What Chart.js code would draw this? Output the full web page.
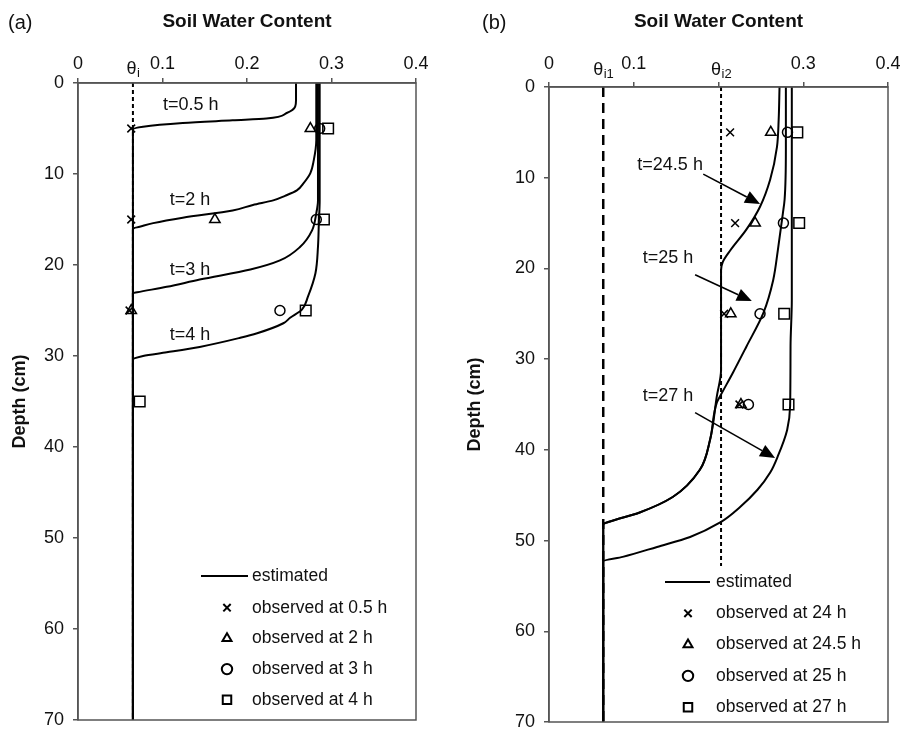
<!DOCTYPE html>
<html>
<head>
<meta charset="utf-8">
<script src="https://cdn.jsdelivr.net/npm/chart.js@4.4.0/dist/chart.umd.min.js"></script>
<style>
  html, body { margin: 0; padding: 0; background: #fff; overflow: hidden; }
  #wrap { position: relative; width: 900px; height: 735px; }
  .pane { position: absolute; top: 0; width: 450px; height: 735px; }
</style>
</head>
<body>
<div id="wrap">
  <div class="pane" style="left:0"><canvas id="chartA" width="450" height="735"></canvas></div>
  <div class="pane" style="left:450px"><canvas id="chartB" width="450" height="735"></canvas></div>
</div>
<script>
// ---- data ----
const xTicks = [0, 0.1, 0.2, 0.3, 0.4];
const yTicks = [0, 10, 20, 30, 40, 50, 60, 70];

// (a) initial water content
const thetaI = 0.065;
// (a) estimated profiles (theta, depth cm)
const estA05Theta = [0.258, 0.258, 0.257, 0.247, 0.223, 0.183, 0.124, 0.077, 0.065, 0.065];
const estA05Depth = [0, 1.9, 2.6, 3.3, 3.9, 4.1, 4.4, 4.8, 5.1, 70];
const estA2Theta = [0.282, 0.282, 0.279, 0.275, 0.267, 0.259, 0.245, 0.231, 0.207, 0.183, 0.124, 0.089, 0.073, 0.065, 0.065];
const estA2Depth = [0, 6.3, 8.5, 9.9, 11.0, 11.8, 12.4, 12.9, 13.4, 14.0, 14.8, 15.4, 15.8, 16.0, 70];
const estA3Theta = [0.284, 0.284, 0.282, 0.277, 0.263, 0.239, 0.204, 0.144, 0.105, 0.070, 0.065, 0.065];
const estA3Depth = [0, 12.9, 14.3, 16.2, 18.0, 19.5, 20.5, 21.6, 22.4, 23.0, 23.1, 70];
const estA4Theta = [0.286, 0.286, 0.285, 0.284, 0.281, 0.272, 0.265, 0.251, 0.243, 0.212, 0.192, 0.144, 0.105, 0.077, 0.065, 0.065];
const estA4Depth = [0, 12.9, 15.4, 18.0, 20.9, 23.5, 24.9, 25.8, 26.4, 27.5, 28.0, 29.0, 29.6, 30.0, 30.4, 70];
// (a) observed
const obsDepthA = [5, 15, 25, 35];
const obsA05 = [0.063, 0.063, 0.061];
const obsA2 = [0.275, 0.162, 0.063];
const obsA3 = [0.286, 0.282, 0.239];
const obsA4 = [0.296, 0.291, 0.2695, 0.073];

// (b) initial water contents
const thetaI1 = 0.064;
const thetaI2 = 0.203;
// (b) estimated profiles
const estB245Theta = [0.272, 0.271, 0.269, 0.261, 0.249, 0.233, 0.214, 0.205, 0.203, 0.203, 0.198, 0.190, 0.178, 0.146, 0.107, 0.072, 0.064, 0.064];
const estB245Depth = [0, 3.6, 6.6, 10.2, 13.2, 15.7, 18.0, 19.3, 20.2, 31.2, 34.1, 38.9, 42.2, 45.2, 46.9, 47.9, 48.2, 70];
const estB25Theta = [0.2795, 0.2795, 0.278, 0.276, 0.270, 0.2645, 0.253, 0.233, 0.217, 0.203, 0.198, 0.190, 0.178, 0.146, 0.107, 0.072, 0.064, 0.064];
const estB25Depth = [0, 6.9, 12.4, 13.9, 18.0, 21.3, 24.9, 28.6, 31.5, 33.9, 34.8, 38.9, 42.2, 45.2, 46.9, 47.9, 48.2, 70];
const estB27Theta = [0.2865, 0.2865, 0.285, 0.2845, 0.281, 0.270, 0.261, 0.246, 0.2255, 0.202, 0.1665, 0.1275, 0.087, 0.064, 0.064];
const estB27Depth = [0, 23.5, 28.6, 35.2, 37.8, 40.7, 42.5, 44.4, 46.3, 48.0, 49.6, 50.7, 51.8, 52.3, 70];
// (b) observed
const obsDepthB = [5, 15, 25, 35];
const obsB24 = [0.2137, 0.2196, 0.2066, 0.2247];
const obsB245 = [0.2617, 0.2432, 0.2145, 0.2265];
const obsB25 = [0.2814, 0.2766, 0.249, 0.2353];
const obsB27 = [0.293, 0.2952, 0.2775, 0.2826];

const legendA = ['estimated', 'observed at 0.5 h', 'observed at 2 h', 'observed at 3 h', 'observed at 4 h'];
const legendB = ['estimated', 'observed at 24 h', 'observed at 24.5 h', 'observed at 25 h', 'observed at 27 h'];
const curveTextA = ['t=0.5 h', 't=2 h', 't=3 h', 't=4 h'];
const curveTextB = ['t=24.5 h', 't=25 h', 't=27 h'];

// ---- helpers ----
const FONT = "'Liberation Sans', Arial, sans-serif";
const AXIS = '#555';

function pts(theta, depth) {
  return theta.map((t, i) => ({ x: t, y: depth[i] }));
}

function curve(theta, depth) {
  return { data: pts(theta, depth), showLine: true, borderColor: '#000', borderWidth: 2,
           pointRadius: 0, cubicInterpolationMode: 'monotone', order: 1 };
}

function refLine(val, dash, width) {
  return { data: [{ x: val, y: 0 }, { x: val, y: 70 }], showLine: true, borderColor: '#000',
           borderWidth: width, borderDash: dash, pointRadius: 0, order: 5 };
}

const markers = [
  { style: 'crossRot', r: 5.5 },
  { style: 'triangle', r: 6 },
  { style: 'circle', r: 5 },
  { style: 'rect', r: 7.5 }
];

function observed(theta, depth, m) {
  return { data: pts(theta, depth.slice(0, theta.length)), showLine: false, pointStyle: m.style,
           pointRadius: m.r, pointBorderColor: '#000', pointBackgroundColor: 'rgba(0,0,0,0)',
           pointBorderWidth: 1.5, order: 0 };
}

function drawMarker(ctx, style, x, y, r) {
  ctx.beginPath();
  if (style === 'crossRot') {
    const o = r * Math.SQRT1_2;
    ctx.moveTo(x - o, y - o); ctx.lineTo(x + o, y + o);
    ctx.moveTo(x - o, y + o); ctx.lineTo(x + o, y - o);
  } else if (style === 'triangle') {
    ctx.moveTo(x, y - r);
    ctx.lineTo(x + r * Math.sin(Math.PI / 3), y + r / 2);
    ctx.lineTo(x - r * Math.sin(Math.PI / 3), y + r / 2);
    ctx.closePath();
  } else if (style === 'circle') {
    ctx.arc(x, y, r, 0, Math.PI * 2);
  } else {
    const s = r * Math.SQRT1_2;
    ctx.rect(x - s, y - s, 2 * s, 2 * s);
  }
  ctx.stroke();
}

const decor = {
  id: 'decor',
  afterDatasetsDraw(chart, args, o) {
    const { ctx, chartArea: a, scales: { x, y } } = chart;
    ctx.save();
    // legend background
    const L = o.legend;
    if (L.bg) {
      ctx.fillStyle = '#fff';
      ctx.fillRect(L.bg[0], L.bg[1], L.bg[2], L.bg[3]);
    }
    // plot frame
    ctx.strokeStyle = AXIS;
    ctx.lineWidth = 1.5;
    ctx.strokeRect(a.left, a.top, a.right - a.left, a.bottom - a.top);

    ctx.fillStyle = '#111';
    ctx.strokeStyle = '#000';
    // panel letter
    ctx.font = '20px ' + FONT;
    ctx.textAlign = 'left';
    ctx.textBaseline = 'middle';
    ctx.fillText(o.letter[0], o.letter[1], o.letter[2]);

    // theta labels on the top axis
    o.thetaLabels.forEach(t => {
      ctx.font = '18px ' + FONT;
      const w1 = ctx.measureText('θ').width;
      ctx.font = '13px ' + FONT;
      const w2 = ctx.measureText(t.sub).width;
      const px = x.getPixelForValue(t.value) - (w1 + w2) / 2;
      ctx.textAlign = 'left';
      ctx.textBaseline = 'alphabetic';
      ctx.font = '18px ' + FONT;
      ctx.fillText('θ', px, o.thetaY);
      ctx.font = '13px ' + FONT;
      ctx.fillText(t.sub, px + w1 + 0.5, o.thetaY + 3);
    });

    // curve labels and arrows
    ctx.font = '18px ' + FONT;
    ctx.textAlign = 'center';
    ctx.textBaseline = 'middle';
    o.notes.forEach(n => {
      ctx.fillText(n.text, x.getPixelForValue(n.at[0]), y.getPixelForValue(n.at[1]));
      if (n.arrow) {
        const x0 = x.getPixelForValue(n.arrow[0]), y0 = y.getPixelForValue(n.arrow[1]);
        const x1 = x.getPixelForValue(n.arrow[2]), y1 = y.getPixelForValue(n.arrow[3]);
        const ang = Math.atan2(y1 - y0, x1 - x0);
        const hl = 15, hw = 6.5;
        ctx.lineWidth = 1.6;
        ctx.beginPath();
        ctx.moveTo(x0, y0);
        ctx.lineTo(x1 - hl * Math.cos(ang), y1 - hl * Math.sin(ang));
        ctx.stroke();
        ctx.beginPath();
        ctx.moveTo(x1, y1);
        ctx.lineTo(x1 - hl * Math.cos(ang) + hw * Math.sin(ang), y1 - hl * Math.sin(ang) - hw * Math.cos(ang));
        ctx.lineTo(x1 - hl * Math.cos(ang) - hw * Math.sin(ang), y1 - hl * Math.sin(ang) + hw * Math.cos(ang));
        ctx.closePath();
        ctx.fillStyle = '#000';
        ctx.fill();
        ctx.fillStyle = '#111';
      }
    });

    // legend
    ctx.font = '17.5px ' + FONT;
    ctx.textAlign = 'left';
    ctx.textBaseline = 'middle';
    L.labels.forEach((lab, i) => {
      const yy = L.y0 + i * L.dy + (i > 0 ? L.gap : 0);
      if (i === 0) {
        ctx.lineWidth = 2.2;
        ctx.beginPath();
        ctx.moveTo(L.lineX[0], yy);
        ctx.lineTo(L.lineX[1], yy);
        ctx.stroke();
      } else {
        ctx.lineWidth = 2;
        const m = markers[i - 1];
        drawMarker(ctx, m.style, L.markX, yy, m.style === 'rect' ? 6 : 5.2);
      }
      ctx.fillText(lab, L.textX, yy);
    });
    ctx.restore();
  }
};

function scales(o) {
  const tickFont = { family: FONT, size: 18 };
  return {
    x: {
      type: 'linear', position: 'top', min: 0, max: 0.4,
      afterBuildTicks: s => { s.ticks = xTicks.map(v => ({ value: v })); },
      afterFit: s => { s.height = o.top; s.paddingLeft = 0; s.paddingRight = 0; },
      ticks: { font: tickFont, color: '#111', padding: o.tickPad,
               callback: v => (o.hide.includes(v) ? '' : String(v)) },
      grid: { drawOnChartArea: false, drawTicks: true, tickLength: 5, color: AXIS, lineWidth: 1.5 },
      border: { display: true, color: AXIS, width: 1.5 },
      title: { display: true, text: 'Soil Water Content', color: '#111',
               font: { family: FONT, size: 19, weight: 'bold' }, padding: { top: 10.5, bottom: 0 } }
    },
    y: {
      type: 'linear', reverse: true, min: 0, max: 70,
      afterBuildTicks: s => { s.ticks = yTicks.map(v => ({ value: v })); },
      afterFit: s => { s.width = o.left; s.paddingTop = 0; s.paddingBottom = 0; },
      ticks: { font: tickFont, color: '#111', padding: 9 },
      grid: { drawOnChartArea: false, drawTicks: true, tickLength: 5, color: AXIS, lineWidth: 1.5 },
      border: { display: true, color: AXIS, width: 1.5 },
      title: { display: true, text: 'Depth (cm)', color: '#111',
               font: { family: FONT, size: 18, weight: 'bold' }, padding: { top: o.yTitle, bottom: 0 } }
    }
  };
}

// ---- panel (a) ----
new Chart(document.getElementById('chartA'), {
  type: 'scatter',
  data: {
    datasets: [
      observed(obsA05, obsDepthA, markers[0]),
      observed(obsA2, obsDepthA, markers[1]),
      observed(obsA3, obsDepthA, markers[2]),
      observed(obsA4, obsDepthA, markers[3]),
      curve(estA05Theta, estA05Depth),
      curve(estA2Theta, estA2Depth),
      curve(estA3Theta, estA3Depth),
      curve(estA4Theta, estA4Depth),
      refLine(thetaI, [4, 3], 2)
    ]
  },
  options: {
    responsive: false, animation: false, devicePixelRatio: 1, indexAxis: 'y',
    layout: { padding: { left: 0, top: 0, right: 34, bottom: 15 } },
    scales: scales({ top: 83, left: 78, tickPad: 3, yTitle: 9, hide: [] }),
    plugins: {
      legend: { display: false }, tooltip: { enabled: false },
      decor: {
        letter: ['(a)', 8, 23],
        thetaY: 74,
        thetaLabels: [{ value: thetaI, sub: 'i' }],
        notes: [
          { text: curveTextA[0], at: [0.1334, 2.4] },
          { text: curveTextA[1], at: [0.1325, 12.9] },
          { text: curveTextA[2], at: [0.1325, 20.5] },
          { text: curveTextA[3], at: [0.1325, 27.7] }
        ],
        legend: { labels: legendA, y0: 576, dy: 30.7, gap: 1, lineX: [201, 248], markX: 227, textX: 252, bg: null }
      }
    }
  },
  plugins: [decor]
});

// ---- panel (b) ----
new Chart(document.getElementById('chartB'), {
  type: 'scatter',
  data: {
    datasets: [
      observed(obsB24, obsDepthB, markers[0]),
      observed(obsB245, obsDepthB, markers[1]),
      observed(obsB25, obsDepthB, markers[2]),
      observed(obsB27, obsDepthB, markers[3]),
      curve(estB245Theta, estB245Depth),
      curve(estB25Theta, estB25Depth),
      curve(estB27Theta, estB27Depth),
      refLine(thetaI1, [10, 6], 2.5),
      refLine(thetaI2, [4, 3], 2)
    ]
  },
  options: {
    responsive: false, animation: false, devicePixelRatio: 1, indexAxis: 'y',
    layout: { padding: { left: 0, top: 0, right: 12, bottom: 13 } },
    scales: scales({ top: 87, left: 99, tickPad: 7, yTitle: 14, hide: [0.2] }),
    plugins: {
      legend: { display: false }, tooltip: { enabled: false },
      decor: {
        letter: ['(b)', 32, 23],
        thetaY: 75,
        thetaLabels: [{ value: thetaI1, sub: 'i1' }, { value: thetaI2, sub: 'i2' }],
        notes: [
          { text: curveTextB[0], at: [0.1429, 8.6], arrow: [0.182, 9.6, 0.249, 12.9] },
          { text: curveTextB[1], at: [0.1405, 18.8], arrow: [0.1724, 20.7, 0.2393, 23.6] },
          { text: curveTextB[2], at: [0.1405, 34.1], arrow: [0.1724, 35.9, 0.2668, 40.9] }
        ],
        legend: { labels: legendB, y0: 582, dy: 31.3, gap: 0, lineX: [215, 260], markX: 238, textX: 266,
                  bg: [200, 566, 237, 155] }
      }
    }
  },
  plugins: [decor]
});
</script>
</body>
</html>
